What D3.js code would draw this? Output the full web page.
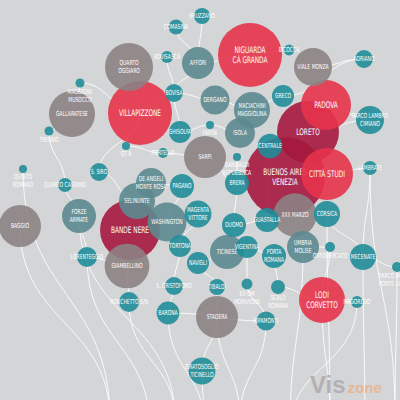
<!DOCTYPE html>
<html>
<head>
<meta charset="utf-8">
<script src="https://cdn.jsdelivr.net/npm/d3@7"></script>
<style>
body{margin:0;background:#d4d5d7}
svg{display:block}
</style>
</head>
<body>
<div id="chart"></div>
<script>
// quartieri (NIL) di Milano - nome, posizione sulla mappa, peso, tipo
var names = ['COMASINA','BRUZZANO','NIGUARDA|CÀ GRANDA','BICOCCA','VIALE MONZA','ADRIANO','QUARTO|OGGIARO','BOVISASCA','AFFORI','BOVISA',
  'VILLAPIZZONE','GALLARATESE','MAGGIORE|MUSOCCO','TRENNO','QUINTO|ROMANO','QUARTO CAGNINO','S. SIRO','QT 8','FORZE|ARMATE','BAGGIO',
  'LORENTEGGIO','DE ANGELI|MONTE ROSA','SELINUNTE','PAGANO','BANDE NERE','WASHINGTON','GIAMBELLINO','MAGENTA|VITTORE','TORTONA','NAVIGLI',
  'RONCHETTO S/N','S. CRISTOFORO','BARONA','TIBALDI','EX OM|MORIVIONE','STADERA','GRATOSOGLIO|TICINELLO','TICINESE','VIGENTINA','DUOMO',
  'BRERA','GARIBALDI|REPUBBLICA','SARPI','PORTELLO','GHISOLFA','FARINI','DERGANO','MACIACHINI|MAGGIOLINA','ISOLA','GRECO',
  'CENTRALE','BUENOS AIRES|VENEZIA','LORETO','PADOVA','PARCO LAMBRO|CIMIANO','CITTÀ STUDI','LAMBRATE','XXII MARZO','CORSICA','GUASTALLA',
  'UMBRIA|MOLISE','ORTOMERCATO','MECENATE','PORTA|ROMANA','SCALO|ROMANA','RIPAMONTI','LODI|CORVETTO','ROGOREDO','PARCO MONLUÈ|PONTE LAMBRO']
var px = [176,202,250,289,313,364,129,167,198,174,
  140,72,80,49,23,65,99,126,79,20,
  87,151,137,182,130,167,127,198,180,198,
  129,174,168,217,247,217,202,227,247,234,
  237,237,205,163,180,210,215,252,240,283,
  270,285,308,326,370,327,370,295,327,267,
  303,330,363,274,278,266,322,357,397]
var py = [27,16,55,50,67,59,67,57,63,93,
  113,114,83,131,169,185,172,146,216,226,
  257,183,201,186,230,222,266,214,246,263,
  302,286,313,287,284,317,371,252,247,225,
  183,157,157,153,132,125,100,110,133,96,
  146,177,132,105,120,174,168,215,214,220,
  247,247,257,256,287,321,300,302,267]
var size = [56,64,1024,30,361,81,576,36,256,81,
  1024,529,20,20,16,49,81,16,289,441,
  100,225,324,144,900,380,500,180,121,121,
  100,81,130,64,30,441,180,289,121,144,
  144,16,441,25,121,16,210,324,225,121,
  150,1600,961,625,196,676,49,470,169,144,
  256,25,169,144,49,90,529,36,25]
var group = ['t','t','r','t','m','t','m','t','g','t',
  'r','m','t','t','t','t','t','t','g','m',
  't','g','g','t','c','g','m','t','t','t',
  't','t','t','t','t','m','t','g','t','t',
  't','t','m','t','t','t','g','g','g','t',
  't','c','c','r','t','r','t','m','t','t',
  'g','t','t','t','t','t','r','t','t']
// quartieri con l'etichetta sotto il cerchio
var below = ['MAGGIORE|MUSOCCO','TRENNO','QUINTO|ROMANO','QT 8','GARIBALDI|REPUBBLICA','FARINI','EX OM|MORIVIONE','SCALO|ROMANA','ORTOMERCATO','PARCO MONLUÈ|PONTE LAMBRO']

// punti di uscita fuori dal riquadro
var exitNames = ['e1','e2','e3','e4','e5','e6','e7','e8','e9']
var exitX = [110,150,175,205,240,290,330,365,395]
var exitY = [420,430,420,430,420,430,420,430,420]

// collegamenti tra quartieri
var links = [
  ['COMASINA','AFFORI'],['BRUZZANO','AFFORI'],['BOVISASCA','BOVISA'],['AFFORI','BOVISA'],['AFFORI','NIGUARDA|CÀ GRANDA'],
  ['NIGUARDA|CÀ GRANDA','BICOCCA'],['BOVISA','VILLAPIZZONE'],['BOVISA','GHISOLFA'],['BOVISA','DERGANO'],['QUARTO|OGGIARO','VILLAPIZZONE'],
  ['MAGGIORE|MUSOCCO','VILLAPIZZONE'],['MAGGIORE|MUSOCCO','GALLARATESE'],['GALLARATESE','TRENNO'],['VILLAPIZZONE','QT 8'],['QT 8','PORTELLO'],
  ['VILLAPIZZONE','S. SIRO'],['TRENNO','QUARTO CAGNINO'],['QUARTO CAGNINO','FORZE|ARMATE'],['S. SIRO','SELINUNTE'],['QUINTO|ROMANO','e1'],
  ['BAGGIO','e1'],['FORZE|ARMATE','e3'],['LORENTEGGIO','e2'],['GIAMBELLINO','RONCHETTO S/N'],['RONCHETTO S/N','e3'],
  ['BARONA','e4'],['S. CRISTOFORO','BARONA'],['NAVIGLI','TIBALDI'],['TIBALDI','STADERA'],['STADERA','GRATOSOGLIO|TICINELLO'],
  ['BARONA','RIPAMONTI'],['GRATOSOGLIO|TICINELLO','e4'],['STADERA','e5'],['RIPAMONTI','e5'],['LODI|CORVETTO','e7'],
  ['PORTA|ROMANA','SCALO|ROMANA'],['SCALO|ROMANA','LODI|CORVETTO'],['LODI|CORVETTO','ROGOREDO'],['ORTOMERCATO','LODI|CORVETTO'],['UMBRIA|MOLISE','ORTOMERCATO'],
  ['XXII MARZO','UMBRIA|MOLISE'],['CORSICA','MECENATE'],['LAMBRATE','MECENATE'],['CITTÀ STUDI','LAMBRATE'],['MECENATE','PARCO MONLUÈ|PONTE LAMBRO'],
  ['PARCO MONLUÈ|PONTE LAMBRO','e9'],['ROGOREDO','e6'],['VIGENTINA','EX OM|MORIVIONE'],['TICINESE','NAVIGLI'],['DUOMO','BRERA'],
  ['GUASTALLA','DUOMO'],['CENTRALE','GUASTALLA'],['BRERA','GARIBALDI|REPUBBLICA'],['MAGENTA|VITTORE','TORTONA'],['PAGANO','WASHINGTON'],
  ['WASHINGTON','TORTONA'],['DE ANGELI|MONTE ROSA','PAGANO'],['PORTELLO','SARPI'],['GHISOLFA','FARINI'],['FARINI','ISOLA'],
  ['DERGANO','MACIACHINI|MAGGIOLINA'],['GRECO','MACIACHINI|MAGGIOLINA'],['VIALE MONZA','ADRIANO'],['GRECO','ADRIANO'],['PADOVA','VIALE MONZA'],
  ['LORETO','PARCO LAMBRO|CIMIANO'],['PADOVA','PARCO LAMBRO|CIMIANO'],['CENTRALE','BUENOS AIRES|VENEZIA'],['SARPI','BRERA'],['TORTONA','S. CRISTOFORO'],
  ['GIAMBELLINO','LORENTEGGIO'],['FORZE|ARMATE','LORENTEGGIO'],['VIGENTINA','PORTA|ROMANA'],['UMBRIA|MOLISE','e6'],['EX OM|MORIVIONE','RIPAMONTI'],
  ['MECENATE','e8'],['CORSICA','e7'],['LAMBRATE','e9']
]

var colors = {t:'#1f8d99', g:'#5c8a90', m:'#8c8284', r:'#e6334a', c:'#a5183f'}

var width = 400, height = 400
var x = d3.scaleLinear().domain([0, 400]).range([0, width])
var y = d3.scaleLinear().domain([0, 400]).range([0, height])
var rs = d3.scaleSqrt().domain([0, 1600]).range([0, 40])

var nodes = names.map(function(n, i){
    return {name: n, x: px[i], y: py[i], v: size[i], g: group[i]}
})
var lookup = {}
nodes.forEach(function(d){ lookup[d.name] = d })
exitNames.forEach(function(n, i){ lookup[n] = {name: n, x: exitX[i], y: exitY[i], v: 0} })

var svg = d3.select('#chart')
    .append('svg')
    .attr('width', width)
    .attr('height', height)

svg.append('rect').attr('width', width).attr('height', height).attr('fill', '#d4d5d7')

var vLink = d3.linkVertical().x(function(d){ return x(d.x) }).y(function(d){ return y(d.y) })
var hLink = d3.linkHorizontal().x(function(d){ return x(d.x) }).y(function(d){ return y(d.y) })

svg.append('g')
    .selectAll('path')
    .data(links)
    .enter()
    .append('path')
    .attr('d', function(l){
        var a = lookup[l[0]], b = lookup[l[1]]
        var f = Math.abs(b.y - a.y) > Math.abs(b.x - a.x) ? vLink : hLink
        return f({source: a, target: b})
    })
    .attr('fill', 'none')
    .attr('stroke', '#fff')
    .attr('stroke-opacity', 0.85)
    .attr('stroke-width', 1)

// i cerchi grandi sotto, i piccoli sopra
var sorted = nodes.slice().sort(function(a, b){ return b.v - a.v })

var node = svg.append('g')
    .selectAll('g')
    .data(sorted)
    .enter()
    .append('g')

node.append('circle')
    .attr('cx', function(d){ return x(d.x) })
    .attr('cy', function(d){ return y(d.y) })
    .attr('r', function(d){ return rs(d.v) })
    .attr('fill', function(d){ return colors[d.g] })
    .attr('fill-opacity', 0.9)

node.append('text')
    .attr('text-anchor', 'middle')
    .attr('fill', '#fff')
    .attr('transform', function(d){ return 'translate(' + x(d.x) + ',0) scale(0.72,1)' })
    .style('font-family', '"Liberation Sans Narrow", "DejaVu Sans Condensed", "Liberation Sans", sans-serif')
    .style('font-size', function(d){ return (d.g == 'r' || d.g == 'c') ? '9px' : '7px' })
    .each(function(d){
        var lines = d.name.split('|')
        var big = (d.g == 'r' || d.g == 'c')
        var lh = big ? 10.5 : 8
        var cy = y(d.y)
        var start
        if (below.indexOf(d.name) >= 0) {
            start = cy + rs(d.v) + 4
        } else {
            start = cy - (lines.length - 1) * lh / 2
        }
        var t = d3.select(this)
        lines.forEach(function(s, i){
            t.append('tspan')
                .attr('x', 0)
                .attr('y', start + i * lh)
                .attr('dy', '0.35em')
                .text(s)
        })
    })

// marchio
var logo = svg.append('text')
    .attr('x', 310)
    .attr('y', 393)
    .style('font-family', '"Liberation Sans", Arial, sans-serif')
    .style('font-weight', 'bold')
logo.append('tspan').text('Vis').attr('fill', '#b3b0b1').style('font-size', '24px')
logo.append('tspan').text('zone').attr('dx', 2).attr('fill', '#e6b896').style('font-size', '15px')
</script>
</body>
</html>
